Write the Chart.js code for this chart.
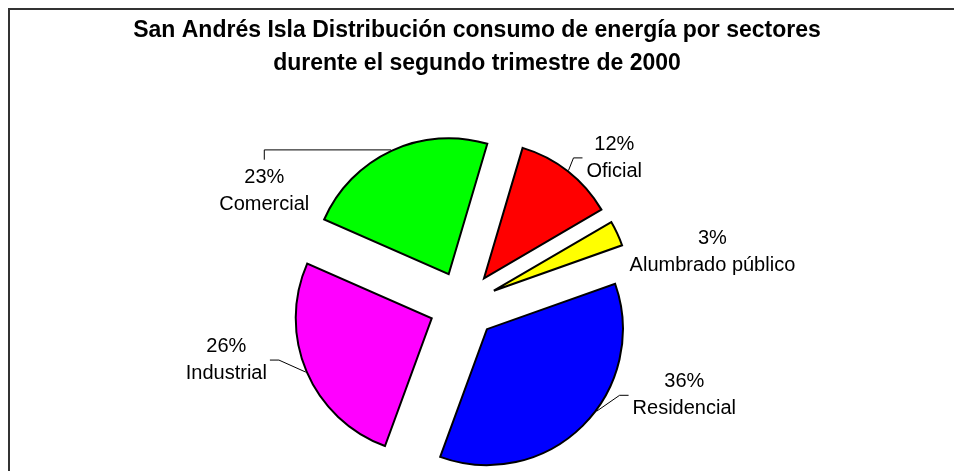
<!DOCTYPE html>
<html>
<head>
<meta charset="utf-8">
<script src="https://cdn.jsdelivr.net/npm/chart.js@4.4.1/dist/chart.umd.min.js"></script>
<style>
  html, body { margin: 0; padding: 0; background: #fff; }
</style>
</head>
<body>
<canvas id="pie" width="954" height="471"></canvas>
<script>
// values
const sectors = ["Oficial", "Alumbrado público", "Residencial", "Industrial", "Comercial"];
const shares = [12, 3, 36, 26, 23];
const sliceColors = ["#ff0000", "#ffff00", "#0000ff", "#ff00ff", "#00ff00"];
const titleLines = [
  "San Andrés Isla Distribución consumo de energía por sectores",
  "durente el segundo trimestre de 2000",
];

const FONT = '"Liberation Sans", Arial, sans-serif';
const EXPLODE = 34;   // how far each slice is pulled out
const LINE_GAP = 27;  // between the two lines of a data label

// label placement: angle nudge from the slice middle (deg), distance from pie centre, leader style
const labelLayout = [
  { dAng: 7.7, dist: 211, leader: "left" },
  { dAng: 12.9, dist: 255, leader: null },
  { dAng: -23.1, dist: 239, leader: "left", leaderAng: -8.5 },
  { dAng: 10, dist: 243, leader: "right" },
  { dAng: -35.3, dist: 229, leader: "top" },
];

// pull every slice out along its middle angle, same distance for all
const explodePlugin = {
  id: "explode",
  afterDatasetsUpdate(chart) {
    chart.getDatasetMeta(0).data.forEach((arc) => {
      const mid = (arc.startAngle + arc.endAngle) / 2;
      arc.x += Math.cos(mid) * EXPLODE;
      arc.y += Math.sin(mid) * EXPLODE;
    });
  },
};

const decorPlugin = {
  id: "decor",
  afterDraw(chart) {
    const ctx = chart.ctx;
    ctx.save();

    // outer frame (runs off the right and bottom edge)
    ctx.strokeStyle = "#333";
    ctx.lineWidth = 2;
    ctx.strokeRect(9, 9, 1000, 1000);

    // title
    ctx.fillStyle = "#000";
    ctx.textAlign = "center";
    ctx.textBaseline = "middle";
    ctx.font = `bold 23px ${FONT}`;
    ctx.fillText(titleLines[0], chart.width / 2, 31);
    ctx.fillText(titleLines[1], chart.width / 2, 64);

    // data labels with leader lines
    const { left, right, top, bottom } = chart.chartArea;
    const cx = (left + right) / 2;
    const cy = (top + bottom) / 2;
    const total = shares.reduce((a, b) => a + b, 0);
    ctx.font = `20px ${FONT}`;
    ctx.strokeStyle = "#000";
    ctx.lineWidth = 1;

    chart.getDatasetMeta(0).data.forEach((arc, i) => {
      const lay = labelLayout[i];
      const mid = (arc.startAngle + arc.endAngle) / 2;
      const a = mid + (lay.dAng * Math.PI) / 180;
      const bx = cx + Math.cos(a) * lay.dist;
      const by = cy + Math.sin(a) * lay.dist;
      const lines = [Math.round((shares[i] / total) * 100) + "%", sectors[i]];
      const w = Math.max(...lines.map((t) => ctx.measureText(t).width));

      ctx.fillText(lines[0], bx, by - LINE_GAP / 2);
      ctx.fillText(lines[1], bx, by + LINE_GAP / 2);

      if (!lay.leader) return;
      const la = mid + ((lay.leaderAng || 0) * Math.PI) / 180;
      const r = arc.outerRadius + 1;
      const px = arc.x + Math.cos(la) * r;
      const py = arc.y + Math.sin(la) * r;
      ctx.beginPath();
      if (lay.leader === "left") {
        ctx.moveTo(bx - w / 2 - 4, by);
        ctx.lineTo(bx - w / 2 - 13, by);
      } else if (lay.leader === "right") {
        ctx.moveTo(bx + w / 2 + 3, by);
        ctx.lineTo(bx + w / 2 + 12, by);
      } else {
        ctx.moveTo(bx, by - LINE_GAP / 2 - 18);
        ctx.lineTo(bx, py);
      }
      ctx.lineTo(px, py);
      ctx.stroke();
    });

    ctx.restore();
  },
};

const ctx = document.getElementById("pie").getContext("2d");
new Chart(ctx, {
  type: "pie",
  data: {
    labels: sectors,
    datasets: [
      {
        data: shares,
        backgroundColor: sliceColors,
        borderColor: "#000",
        borderWidth: 2,
        borderJoinStyle: "miter",
        hoverOffset: 0,
      },
    ],
  },
  options: {
    responsive: false,
    animation: false,
    events: [],
    rotation: 16.5,
    radius: 136,
    layout: { padding: { left: 0, right: 28, top: 139, bottom: 0 } },
    plugins: {
      legend: { display: false },
      title: { display: false },
      tooltip: { enabled: false },
    },
  },
  plugins: [explodePlugin, decorPlugin],
});
</script>
</body>
</html>
